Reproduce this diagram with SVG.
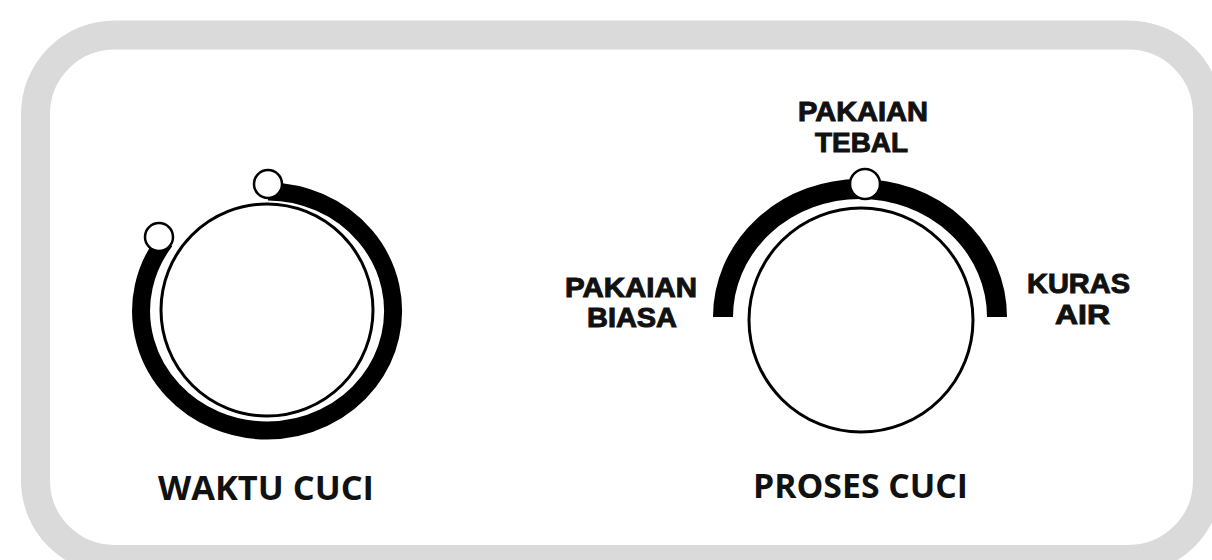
<svg xmlns="http://www.w3.org/2000/svg" width="1212" height="560" viewBox="0 0 1212 560">
  <style>
    .frame { fill: #ffffff; stroke: #dadada; stroke-width: 29; }
    .band { fill: none; stroke: #000000; stroke-linecap: butt; }
    .knob { fill: #ffffff; stroke: #000000; stroke-width: 3; }
    .dot { fill: #ffffff; stroke: #000000; stroke-width: 2.5; }
    .lbl { font-family: "Liberation Sans", Arial, sans-serif; font-weight: 700; font-size: 28px; fill: #111111; stroke: #111111; stroke-width: 1; text-anchor: middle; }
    .title { font-family: "Open Sans", "Liberation Sans", sans-serif; font-weight: 700; font-size: 34px; fill: #111111; text-anchor: middle; }
  </style>
  <rect x="0" y="0" width="1212" height="560" fill="#ffffff"/>
  <rect id="panel" class="frame" x="35.5" y="35" width="1172" height="524.5" rx="79" ry="79"/>

  <g id="dial-waktu">
    <path class="band" stroke-width="18" d="M 268.1 191.5 A 126 119.5 0 1 1 165.1 240.8"/>
    <circle class="knob" cx="267" cy="310" r="106"/>
    <circle class="dot" cx="268" cy="184" r="14"/>
    <circle class="dot" cx="159" cy="237" r="14"/>
    <text class="title" x="266" y="500" textLength="216" lengthAdjust="spacingAndGlyphs">WAKTU CUCI</text>
  </g>

  <g id="dial-proses">
    <path class="band" stroke-width="20" d="M 723 317 A 137 128 0 0 1 997 317"/>
    <circle class="knob" cx="861" cy="320" r="112"/>
    <circle class="dot" cx="865" cy="184" r="15"/>
    <text class="title" x="860.5" y="498" textLength="215" lengthAdjust="spacingAndGlyphs">PROSES CUCI</text>
  </g>

  <g id="label-tebal">
    <text class="lbl" x="863" y="121" textLength="130" lengthAdjust="spacingAndGlyphs">PAKAIAN</text>
    <text class="lbl" x="861.5" y="152" textLength="93" lengthAdjust="spacingAndGlyphs">TEBAL</text>
  </g>
  <g id="label-biasa">
    <text class="lbl" x="631" y="297" textLength="132" lengthAdjust="spacingAndGlyphs">PAKAIAN</text>
    <text class="lbl" x="632" y="327" textLength="90" lengthAdjust="spacingAndGlyphs">BIASA</text>
  </g>
  <g id="label-kuras">
    <text class="lbl" x="1078.5" y="293" textLength="103" lengthAdjust="spacingAndGlyphs">KURAS</text>
    <text class="lbl" x="1082.5" y="324" textLength="55" lengthAdjust="spacingAndGlyphs">AIR</text>
  </g>
</svg>
